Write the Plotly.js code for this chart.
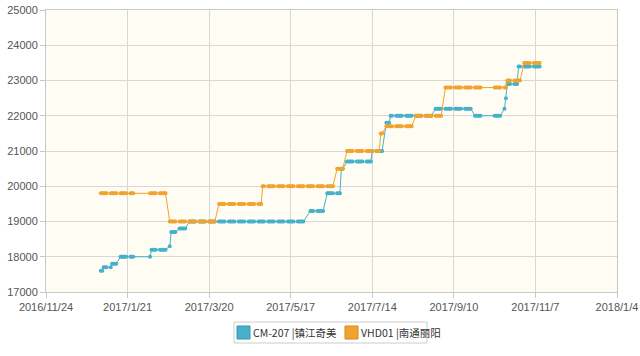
<!DOCTYPE html>
<html>
<head>
<meta charset="utf-8">
<script src="https://cdn.plot.ly/plotly-3.0.1.min.js"></script>
<style>html,body{margin:0;padding:0;background:#fff;}#chart{width:640px;height:356px;}</style>
</head>
<body>
<div id="chart"></div>
<script>
// Series names
const seriesNames = ['CM-207 |镇江奇美', 'VHD01 |南通丽阳'];

// CM-207 step readings: each level holds on weekdays from start to end
const cmStart = ['2017-01-02','2017-01-04','2017-01-10','2017-01-16','2017-02-06','2017-02-07','2017-02-20','2017-02-21','2017-02-27','2017-03-06','2017-05-31','2017-06-12','2017-06-22','2017-06-26','2017-07-14','2017-07-24','2017-07-27','2017-08-28','2017-09-25','2017-10-09','2017-10-16','2017-10-17','2017-10-18','2017-10-26'];
const cmEnd   = ['2017-01-03','2017-01-09','2017-01-13','2017-01-25','2017-02-06','2017-02-17','2017-02-20','2017-02-24','2017-03-03','2017-05-26','2017-06-09','2017-06-21','2017-06-23','2017-07-13','2017-07-21','2017-07-26','2017-08-25','2017-09-22','2017-09-29','2017-10-13','2017-10-16','2017-10-17','2017-10-25','2017-11-10'];
const cmValue = [17600,17700,17800,18000,18000,18200,18300,18700,18800,19000,19300,19800,20500,20700,21000,21800,22000,22200,22000,22000,22200,22500,22900,23400];

// VHD01 step readings
const vhStart = ['2017-01-02','2017-02-06','2017-02-20','2017-03-27','2017-04-27','2017-06-19','2017-06-26','2017-07-20','2017-07-24','2017-08-14','2017-09-04','2017-10-09','2017-10-18','2017-10-30'];
const vhEnd   = ['2017-01-25','2017-02-17','2017-03-24','2017-04-26','2017-06-16','2017-06-23','2017-07-19','2017-07-21','2017-08-11','2017-09-01','2017-09-29','2017-10-17','2017-10-27','2017-11-10'];
const vhValue = [19800,19800,19000,19500,20000,20500,21000,21500,21700,22000,22800,22800,23000,23500];

function expand(starts, ends, vals) {
  const xs = [], ys = [];
  for (let i = 0; i < starts.length; i++) {
    let d = new Date(starts[i] + 'T00:00:00Z');
    const e = new Date(ends[i] + 'T00:00:00Z');
    while (d <= e) {
      const wd = d.getUTCDay();
      if (wd !== 0 && wd !== 6) {
        xs.push(d.toISOString().slice(0, 10));
        ys.push(vals[i]);
      }
      d = new Date(d.getTime() + 86400000);
    }
  }
  return {xs, ys};
}

const cm = expand(cmStart, cmEnd, cmValue);
const vh = expand(vhStart, vhEnd, vhValue);

const cyan = '#46B1C9';
const orange = '#F0A32F';
const colors = [cyan, orange];
const borders = ['#3596ad', '#cf8a1f'];

const traces = [
  {type:'scatter', mode:'lines+markers', x:cm.xs, y:cm.ys, name:seriesNames[0],
   line:{color:cyan, width:1}, marker:{color:cyan, size:4}},
  {type:'scatter', mode:'lines+markers', x:vh.xs, y:vh.ys, name:seriesNames[1],
   line:{color:orange, width:1}, marker:{color:orange, size:4}}
];

// Legend drawn as a compact box (paper coordinates of a 571x282 plot area at l=46,t=10)
const L = 46, T = 10, W = 571, H = 282;
const px = v => (v - L) / W;
const py = v => (T + H - v) / H;
const shapes = [
  {type:'rect', xref:'paper', yref:'paper', x0:px(234), x1:px(427), y0:py(343), y1:py(322),
   line:{color:'#cccccc', width:1}, fillcolor:'#ffffff'}
];
const swatchX = [237, 345];
const textX = [251, 359];
const annotations = [];
for (let i = 0; i < 2; i++) {
  shapes.push({type:'rect', xref:'paper', yref:'paper', x0:px(swatchX[i]), x1:px(swatchX[i] + 13),
    y0:py(339), y1:py(326), line:{color:borders[i], width:1}, fillcolor:colors[i]});
  annotations.push({xref:'paper', yref:'paper', x:px(textX[i]), y:py(332.5), xanchor:'left', yanchor:'middle',
    text:seriesNames[i], showarrow:false,
    font:{family:'"Noto Sans CJK SC", sans-serif', size:10.5, color:'#333'}});
}

const layout = {
  width:640, height:356,
  margin:{l:L, r:640 - L - W, t:T, b:356 - T - H},
  paper_bgcolor:'#ffffff',
  plot_bgcolor:'#FFFCF3',
  font:{family:'"Liberation Sans", Arial, sans-serif', size:11, color:'#555'},
  xaxis:{
    type:'date',
    range:['2016-11-24','2018-01-04'],
    tickmode:'linear', tick0:'2016-11-24', dtick:58*86400000,
    tickformat:'%Y/%-m/%-d',
    showgrid:true, gridcolor:'#d8d8d8', gridwidth:1,
    showline:true, linecolor:'#c8c8c8', linewidth:1, mirror:true,
    ticks:'outside', ticklen:5, tickcolor:'#c8c8c8',
    zeroline:false, fixedrange:true
  },
  yaxis:{
    range:[17000,25000],
    tickmode:'linear', tick0:17000, dtick:1000, tickformat:'d',
    showgrid:true, gridcolor:'#d8d8d8', gridwidth:1,
    showline:true, linecolor:'#c8c8c8', linewidth:1, mirror:true,
    ticks:'outside', ticklen:5, tickcolor:'#c8c8c8',
    zeroline:false, fixedrange:true
  },
  showlegend:false,
  shapes:shapes,
  annotations:annotations
};

Plotly.newPlot('chart', traces, layout, {displayModeBar:false, staticPlot:true});
</script>
</body>
</html>
